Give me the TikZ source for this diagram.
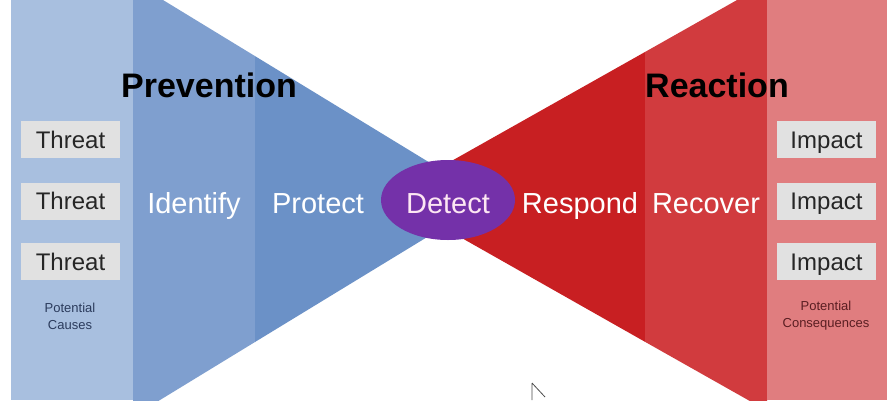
\documentclass[tikz,border=0pt]{standalone}
\usepackage{fontspec}
\setmainfont{Liberation Sans}
\usetikzlibrary{shapes.geometric}
\definecolor{lightblue}{HTML}{A8BFDF}
\definecolor{idblue}{HTML}{7F9FCF}
\definecolor{protblue}{HTML}{6B91C7}
\definecolor{detpurple}{HTML}{7431A9}
\definecolor{respred}{HTML}{C81F22}
\definecolor{recred}{HTML}{D13B3E}
\definecolor{lightred}{HTML}{E07D7F}
\definecolor{boxgray}{HTML}{E1E1E1}
\definecolor{navytxt}{HTML}{2B3B5C}
\definecolor{maroontxt}{HTML}{5A1E22}
\tikzset{
  header/.style={font=\fontsize{34}{36}\selectfont\bfseries, text=black, inner sep=0pt},
  phase/.style={font=\fontsize{29}{31}\selectfont, text=white, inner sep=0pt},
  itembox/.style={fill=boxgray, minimum width=99pt, minimum height=37pt, inner sep=0pt,
                  text height=17.2pt, text depth=0pt,
                  font=\fontsize{24}{26}\selectfont, text=black!85},
  smalltxt/.style={font=\fontsize{13}{17}\selectfont, align=center, inner sep=0pt},
}
\begin{document}
\begin{tikzpicture}[x=1pt,y=-1pt]
\useasboundingbox (0,0) rectangle (895,400);
\fill[white] (0,0) rectangle (895,400);
\begin{scope}
\clip (0,0) rectangle (895,400);
% blue side
\fill[lightblue] (11,0) rectangle (133,400);
\fill[idblue] (133,-18.3) -- (255,56.1) -- (255,342) -- (133,416.5) -- cycle;
\fill[protblue] (255,56.1) -- (489.4,199.1) -- (255,342) -- cycle;
% red side
\fill[respred] (388.5,196.5) -- (645,52) -- (645,341.8) -- cycle;
\fill[recred] (645,52) -- (767,-16.9) -- (767,410.7) -- (645,341.8) -- cycle;
\fill[lightred] (767,0) rectangle (887,400);
\end{scope}
% centre
\node[ellipse, fill=detpurple, minimum width=134pt, minimum height=80pt, inner sep=0pt] (det) at (448,200) {};
\node[phase, text=white!90!magenta, anchor=base] (dettxt) at (448,213) {Detect};
% headers
\node[header, anchor=base] (prev) at (209,97) {Prevention};
\node[header, anchor=base] (react) at (717,97) {Reaction};
% phases
\node[phase, anchor=base] (ident) at (194,213) {Identify};
\node[phase, anchor=base] (prot) at (318,213) {Protect};
\node[phase, anchor=base] (resp) at (580,213) {Respond};
\node[phase, anchor=base] (recov) at (706,213) {Recover};
% threats
\node[itembox] (t1) at (70.5,139.5) {Threat};
\node[itembox] (t2) at (70.5,201) {Threat};
\node[itembox] (t3) at (70.5,261.5) {Threat};
\node[itembox] (i1) at (826.5,139.5) {Impact};
\node[itembox] (i2) at (826.5,201) {Impact};
\node[itembox] (i3) at (826.5,261.5) {Impact};
\node[smalltxt, text=navytxt] (causes) at (70,316) {Potential\\Causes};
\node[smalltxt, text=maroontxt] (conseq) at (826,316) {Potential\\Consequences};
% mouse pointer
\draw[black!70, line width=0.8pt, line join=round] (532,383) -- (532,400) (532,383) -- (545,397);
\end{tikzpicture}
\end{document}
